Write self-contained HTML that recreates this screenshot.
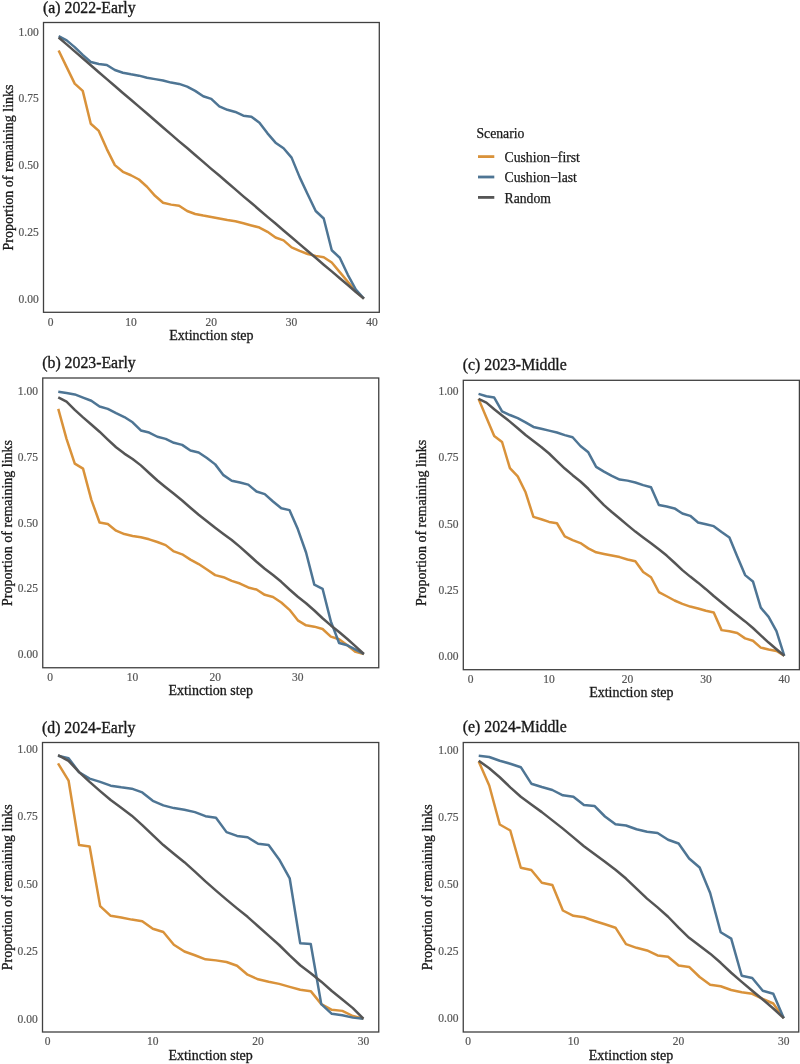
<!DOCTYPE html>
<html><head><meta charset="utf-8"><style>
html,body{margin:0;padding:0;background:#fff;}
svg{display:block;will-change:transform;}
text{font-family:"Liberation Serif",serif;}
.ttl{font-size:15.8px;fill:#1a1a1a;stroke:#1a1a1a;stroke-width:0.35px;}
.tk{font-size:11.5px;fill:#555;stroke:#555;stroke-width:0.2px;}
.ax{font-size:14px;fill:#1a1a1a;stroke:#1a1a1a;stroke-width:0.3px;}
.lg{font-size:13.7px;fill:#1a1a1a;stroke:#1a1a1a;stroke-width:0.25px;}
</style></head><body>
<svg width="800" height="1064" viewBox="0 0 800 1064">
<defs><filter id="bl" x="0" y="0" width="800" height="1064" filterUnits="userSpaceOnUse"><feGaussianBlur stdDeviation="0.0"/></filter></defs>
<rect width="800" height="1064" fill="#fff"/>
<g>
<text x="43.00" y="12.80" class="ttl">(a) 2022-Early</text>
<polyline points="58.63,50.56 66.67,67.11 74.70,83.67 82.73,90.87 90.77,123.72 98.80,130.92 106.83,149.08 114.86,165.10 122.90,171.78 130.93,175.25 138.96,179.52 147.00,186.73 155.03,195.81 163.06,202.75 171.09,204.62 179.13,205.68 187.16,211.02 195.19,213.96 203.23,215.56 211.26,216.90 219.29,218.50 227.33,220.10 235.36,221.17 243.39,223.31 251.42,225.44 259.46,227.58 267.49,231.85 275.52,237.46 283.56,240.39 291.59,247.34 299.62,250.81 307.66,254.01 315.69,255.88 323.72,257.22 331.75,262.56 339.79,272.17 347.82,281.78 355.85,291.39 363.89,298.60" fill="none" stroke="#D9923A" stroke-width="2.5" stroke-linejoin="round" stroke-linecap="butt"/>
<polyline points="58.63,36.14 66.67,40.41 74.70,47.09 82.73,54.83 90.77,62.04 98.80,63.91 106.83,64.98 114.86,70.05 122.90,72.72 130.93,74.32 138.96,75.66 147.00,77.79 155.03,79.13 163.06,80.46 171.09,82.60 179.13,83.93 187.16,86.60 195.19,90.87 203.23,96.21 211.26,98.88 219.29,106.36 227.33,109.83 235.36,111.97 243.39,115.71 251.42,116.77 259.46,122.65 267.49,133.33 275.52,142.67 283.56,148.28 291.59,157.62 299.62,177.12 307.66,194.20 315.69,211.02 323.72,218.50 331.75,250.27 339.79,257.75 347.82,274.84 355.85,289.52 363.89,298.60" fill="none" stroke="#4E7594" stroke-width="2.5" stroke-linejoin="round" stroke-linecap="butt"/>
<polyline points="58.63,37.47 66.67,44.42 74.70,51.36 82.73,58.30 90.77,65.24 98.80,72.18 106.83,79.13 114.86,86.07 122.90,93.01 130.93,99.69 138.96,106.63 147.00,113.57 155.03,120.51 163.06,127.45 171.09,134.40 179.13,141.34 187.16,148.01 195.19,154.95 203.23,161.90 211.26,168.84 219.29,175.51 227.33,182.46 235.36,189.40 243.39,196.34 251.42,203.01 259.46,209.96 267.49,216.90 275.52,223.57 283.56,230.52 291.59,237.19 299.62,244.13 307.66,251.07 315.69,257.75 323.72,264.69 331.75,271.37 339.79,278.31 347.82,284.98 355.85,291.93 363.89,298.60" fill="none" stroke="#555555" stroke-width="2.5" stroke-linejoin="round" stroke-linecap="butt"/>
<rect x="43.50" y="22.50" width="335.80" height="289.80" fill="none" stroke="#404040" stroke-width="1.3"/>
<text x="38.70" y="302.60" class="tk" text-anchor="end">0.00</text>
<text x="38.70" y="235.85" class="tk" text-anchor="end">0.25</text>
<text x="38.70" y="169.10" class="tk" text-anchor="end">0.50</text>
<text x="38.70" y="102.35" class="tk" text-anchor="end">0.75</text>
<text x="38.70" y="35.60" class="tk" text-anchor="end">1.00</text>
<text x="50.60" y="326.30" class="tk" text-anchor="middle">0</text>
<text x="130.93" y="326.30" class="tk" text-anchor="middle">10</text>
<text x="211.26" y="326.30" class="tk" text-anchor="middle">20</text>
<text x="291.59" y="326.30" class="tk" text-anchor="middle">30</text>
<text x="371.92" y="326.30" class="tk" text-anchor="middle">40</text>
<text x="211.40" y="340.30" class="ax" text-anchor="middle">Extinction step</text>
<text x="12.50" y="167.50" class="ax" text-anchor="middle" transform="rotate(-90 12.50 167.50)">Proportion of remaining links</text>
<text x="42.25" y="368.40" class="ttl">(b) 2023-Early</text>
<polyline points="58.26,408.88 66.52,438.87 74.78,463.59 83.04,468.59 91.30,499.62 99.56,522.50 107.82,524.08 116.08,530.65 124.34,534.07 132.60,535.91 140.86,537.23 149.12,539.33 157.38,541.96 165.64,545.12 173.90,551.43 182.16,554.32 190.42,559.58 198.68,564.05 206.94,569.58 215.20,575.10 223.46,577.20 231.72,580.89 239.98,583.52 248.24,587.46 256.50,589.57 264.76,594.83 273.02,596.93 281.28,602.45 289.54,609.82 297.80,620.34 306.06,625.33 314.32,626.65 322.58,629.01 330.84,636.64 339.10,639.27 347.36,645.32 355.62,651.90 363.88,654.00" fill="none" stroke="#D9923A" stroke-width="2.5" stroke-linejoin="round" stroke-linecap="butt"/>
<polyline points="58.26,391.79 66.52,393.10 74.78,394.42 83.04,397.57 91.30,400.73 99.56,406.52 107.82,408.88 116.08,413.09 124.34,417.04 132.60,422.30 140.86,430.45 149.12,432.55 157.38,436.76 165.64,438.87 173.90,442.81 182.16,444.91 190.42,450.44 198.68,452.54 206.94,458.06 215.20,464.38 223.46,475.16 231.72,480.68 239.98,482.52 248.24,484.63 256.50,491.47 264.76,494.10 273.02,501.46 281.28,508.30 289.54,510.14 297.80,529.08 306.06,552.48 314.32,584.57 322.58,588.78 330.84,621.39 339.10,642.95 347.36,645.32 355.62,649.53 363.88,654.00" fill="none" stroke="#4E7594" stroke-width="2.5" stroke-linejoin="round" stroke-linecap="butt"/>
<polyline points="58.26,397.31 66.52,401.52 74.78,409.86 83.04,417.35 91.30,424.48 99.56,431.69 107.82,439.58 116.08,447.28 124.34,453.59 132.60,459.06 140.86,465.38 149.12,473.00 157.38,480.47 165.64,487.26 173.90,493.78 182.16,500.49 190.42,507.69 198.68,514.69 206.94,521.18 215.20,527.76 223.46,533.94 231.72,540.04 239.98,546.88 248.24,554.27 256.50,561.74 264.76,568.74 273.02,575.02 281.28,581.81 289.54,589.51 297.80,596.74 306.06,603.24 314.32,610.53 322.58,618.28 330.84,625.41 339.10,632.09 347.36,639.01 355.62,646.32 363.88,654.00" fill="none" stroke="#555555" stroke-width="2.5" stroke-linejoin="round" stroke-linecap="butt"/>
<rect x="42.75" y="378.00" width="336.00" height="289.75" fill="none" stroke="#404040" stroke-width="1.3"/>
<text x="37.95" y="658.00" class="tk" text-anchor="end">0.00</text>
<text x="37.95" y="592.25" class="tk" text-anchor="end">0.25</text>
<text x="37.95" y="526.50" class="tk" text-anchor="end">0.50</text>
<text x="37.95" y="460.75" class="tk" text-anchor="end">0.75</text>
<text x="37.95" y="395.00" class="tk" text-anchor="end">1.00</text>
<text x="50.00" y="681.15" class="tk" text-anchor="middle">0</text>
<text x="132.60" y="681.15" class="tk" text-anchor="middle">10</text>
<text x="215.20" y="681.15" class="tk" text-anchor="middle">20</text>
<text x="297.80" y="681.15" class="tk" text-anchor="middle">30</text>
<text x="210.75" y="695.35" class="ax" text-anchor="middle">Extinction step</text>
<text x="11.75" y="523.00" class="ax" text-anchor="middle" transform="rotate(-90 11.75 523.00)">Proportion of remaining links</text>
<text x="462.80" y="370.20" class="ttl">(c) 2023-Middle</text>
<polyline points="478.54,398.87 486.38,417.40 494.22,435.92 502.06,442.00 509.90,468.20 517.74,476.40 525.58,492.28 533.42,516.88 541.26,519.27 549.10,521.91 556.94,523.24 564.78,536.47 572.62,540.17 580.46,543.08 588.30,548.37 596.14,552.34 603.98,553.93 611.82,555.52 619.66,557.10 627.50,559.49 635.34,561.34 643.18,571.92 651.02,577.21 658.86,592.03 666.70,596.26 674.54,600.50 682.38,603.94 690.22,606.58 698.06,608.44 705.90,610.82 713.74,612.41 721.58,630.13 729.42,631.19 737.26,633.04 745.10,638.34 752.94,640.72 760.78,647.60 768.62,649.45 776.46,651.04 784.30,655.80" fill="none" stroke="#D9923A" stroke-width="2.5" stroke-linejoin="round" stroke-linecap="butt"/>
<polyline points="478.54,393.85 486.38,396.23 494.22,397.55 502.06,411.31 509.90,415.01 517.74,418.19 525.58,422.42 533.42,426.92 541.26,428.77 549.10,430.63 556.94,432.48 564.78,435.12 572.62,437.24 580.46,445.97 588.30,452.32 596.14,466.88 603.98,471.64 611.82,475.87 619.66,479.58 627.50,480.63 635.34,482.49 643.18,485.13 651.02,487.25 658.86,504.98 666.70,506.57 674.54,508.42 682.38,513.45 690.22,515.83 698.06,522.44 705.90,524.29 713.74,526.15 721.58,531.97 729.42,537.52 737.26,556.57 745.10,575.10 752.94,581.45 760.78,607.64 768.62,616.90 776.46,631.19 784.30,655.80" fill="none" stroke="#4E7594" stroke-width="2.5" stroke-linejoin="round" stroke-linecap="butt"/>
<polyline points="478.54,398.87 486.38,402.58 494.22,409.27 502.06,415.46 509.90,421.63 517.74,428.24 525.58,434.94 533.42,441.08 541.26,446.95 549.10,453.51 556.94,461.05 564.78,468.54 572.62,475.16 580.46,481.48 588.30,488.78 596.14,497.17 603.98,505.16 611.82,512.04 619.66,518.53 627.50,525.14 635.34,531.62 643.18,537.52 651.02,543.21 658.86,549.17 666.70,555.57 674.54,562.79 682.38,570.15 690.22,576.61 698.06,582.64 705.90,589.17 713.74,596.05 721.58,602.56 729.42,608.91 737.26,615.26 745.10,621.40 752.94,628.02 760.78,635.37 768.62,642.57 776.46,649.32 784.30,655.80" fill="none" stroke="#555555" stroke-width="2.5" stroke-linejoin="round" stroke-linecap="butt"/>
<rect x="463.30" y="380.30" width="336.10" height="289.40" fill="none" stroke="#404040" stroke-width="1.3"/>
<text x="458.50" y="659.80" class="tk" text-anchor="end">0.00</text>
<text x="458.50" y="593.65" class="tk" text-anchor="end">0.25</text>
<text x="458.50" y="527.50" class="tk" text-anchor="end">0.50</text>
<text x="458.50" y="461.35" class="tk" text-anchor="end">0.75</text>
<text x="458.50" y="395.20" class="tk" text-anchor="end">1.00</text>
<text x="470.70" y="683.10" class="tk" text-anchor="middle">0</text>
<text x="549.10" y="683.10" class="tk" text-anchor="middle">10</text>
<text x="627.50" y="683.10" class="tk" text-anchor="middle">20</text>
<text x="705.90" y="683.10" class="tk" text-anchor="middle">30</text>
<text x="784.30" y="683.10" class="tk" text-anchor="middle">40</text>
<text x="631.35" y="697.10" class="ax" text-anchor="middle">Extinction step</text>
<text x="426.25" y="522.90" class="ax" text-anchor="middle" transform="rotate(-90 426.25 522.90)">Proportion of remaining links</text>
<text x="42.00" y="732.75" class="ttl">(d) 2024-Early</text>
<polyline points="58.03,763.28 68.56,780.56 79.09,845.09 89.62,846.44 100.15,906.11 110.68,915.83 121.21,917.45 131.74,919.61 142.27,921.23 152.80,928.79 163.33,932.03 173.86,944.72 184.39,951.47 194.92,955.25 205.45,959.30 215.98,960.38 226.51,962.00 237.04,965.78 247.57,974.69 258.10,979.28 268.63,981.71 279.16,983.87 289.69,986.84 300.22,989.81 310.75,991.16 321.28,1004.12 331.81,1009.79 342.34,1010.87 352.87,1016.00 363.40,1018.70" fill="none" stroke="#D9923A" stroke-width="2.5" stroke-linejoin="round" stroke-linecap="butt"/>
<polyline points="58.03,755.72 68.56,758.15 79.09,772.19 89.62,778.67 100.15,781.91 110.68,785.69 121.21,787.31 131.74,788.66 142.27,792.44 152.80,800.81 163.33,805.40 173.86,808.10 184.39,809.72 194.92,812.15 205.45,816.20 215.98,817.82 226.51,832.13 237.04,835.91 247.57,837.26 258.10,843.74 268.63,845.09 279.16,859.40 289.69,878.30 300.22,943.37 310.75,943.91 321.28,1004.12 331.81,1013.84 342.34,1015.19 352.87,1017.62 363.40,1018.70" fill="none" stroke="#4E7594" stroke-width="2.5" stroke-linejoin="round" stroke-linecap="butt"/>
<polyline points="58.03,755.18 68.56,760.85 79.09,772.19 89.62,781.91 100.15,791.09 110.68,800.00 121.21,807.70 131.74,815.66 142.27,825.06 152.80,835.15 163.33,845.09 173.86,853.73 184.39,862.18 194.92,871.69 205.45,881.41 215.98,890.59 226.51,899.63 237.04,908.35 247.57,916.83 258.10,926.23 268.63,935.62 279.16,944.99 289.69,955.44 300.22,965.24 310.75,973.26 321.28,981.66 331.81,991.03 342.34,999.53 352.87,1008.12 363.40,1018.70" fill="none" stroke="#555555" stroke-width="2.5" stroke-linejoin="round" stroke-linecap="butt"/>
<rect x="42.50" y="742.50" width="336.25" height="289.50" fill="none" stroke="#404040" stroke-width="1.3"/>
<text x="37.70" y="1022.70" class="tk" text-anchor="end">0.00</text>
<text x="37.70" y="955.20" class="tk" text-anchor="end">0.25</text>
<text x="37.70" y="887.70" class="tk" text-anchor="end">0.50</text>
<text x="37.70" y="820.20" class="tk" text-anchor="end">0.75</text>
<text x="37.70" y="752.70" class="tk" text-anchor="end">1.00</text>
<text x="47.50" y="1045.00" class="tk" text-anchor="middle">0</text>
<text x="152.80" y="1045.00" class="tk" text-anchor="middle">10</text>
<text x="258.10" y="1045.00" class="tk" text-anchor="middle">20</text>
<text x="363.40" y="1045.00" class="tk" text-anchor="middle">30</text>
<text x="210.62" y="1059.75" class="ax" text-anchor="middle">Extinction step</text>
<text x="11.75" y="887.30" class="ax" text-anchor="middle" transform="rotate(-90 11.75 887.30)">Proportion of remaining links</text>
<text x="462.75" y="732.25" class="ttl">(e) 2024-Middle</text>
<polyline points="478.72,761.51 489.24,785.49 499.76,824.50 510.28,830.51 520.80,867.74 531.32,869.99 541.84,882.76 552.36,884.99 562.88,910.50 573.40,915.76 583.92,917.26 594.44,921.01 604.96,924.26 615.48,927.69 626.00,944.19 636.52,947.81 647.04,950.49 657.56,955.46 668.08,956.80 678.60,965.49 689.12,966.91 699.64,977.00 710.16,984.75 720.68,986.25 731.20,990.01 741.72,992.26 752.24,993.76 762.76,998.99 773.28,1003.50 783.80,1018.20" fill="none" stroke="#D9923A" stroke-width="2.5" stroke-linejoin="round" stroke-linecap="butt"/>
<polyline points="478.72,755.80 489.24,757.00 499.76,760.76 510.28,763.74 520.80,767.20 531.32,783.70 541.84,787.00 552.36,790.00 562.88,795.26 573.40,796.76 583.92,805.10 594.44,805.99 604.96,816.50 615.48,824.31 626.00,825.49 636.52,829.24 647.04,831.79 657.56,833.00 668.08,839.76 678.60,843.49 689.12,858.51 699.64,867.50 710.16,893.01 720.68,932.25 731.20,938.69 741.72,975.76 752.24,977.99 762.76,990.76 773.28,993.76 783.80,1018.20" fill="none" stroke="#4E7594" stroke-width="2.5" stroke-linejoin="round" stroke-linecap="butt"/>
<polyline points="478.72,760.76 489.24,768.24 499.76,777.26 510.28,787.37 520.80,796.76 531.32,804.43 541.84,812.13 552.36,820.37 562.88,828.63 573.40,837.37 583.92,846.17 594.44,854.06 604.96,861.68 615.48,869.75 626.00,878.55 636.52,888.58 647.04,898.61 657.56,907.39 668.08,916.75 678.60,927.67 689.12,937.78 699.64,945.85 710.16,953.63 720.68,962.81 731.20,972.76 741.72,981.93 752.24,990.76 762.76,999.56 773.28,1008.49 783.80,1018.20" fill="none" stroke="#555555" stroke-width="2.5" stroke-linejoin="round" stroke-linecap="butt"/>
<rect x="463.25" y="742.50" width="335.50" height="289.50" fill="none" stroke="#404040" stroke-width="1.3"/>
<text x="458.45" y="1022.20" class="tk" text-anchor="end">0.00</text>
<text x="458.45" y="955.14" class="tk" text-anchor="end">0.25</text>
<text x="458.45" y="888.08" class="tk" text-anchor="end">0.50</text>
<text x="458.45" y="821.01" class="tk" text-anchor="end">0.75</text>
<text x="458.45" y="753.95" class="tk" text-anchor="end">1.00</text>
<text x="468.20" y="1045.00" class="tk" text-anchor="middle">0</text>
<text x="573.40" y="1045.00" class="tk" text-anchor="middle">10</text>
<text x="678.60" y="1045.00" class="tk" text-anchor="middle">20</text>
<text x="783.80" y="1045.00" class="tk" text-anchor="middle">30</text>
<text x="631.00" y="1060.10" class="ax" text-anchor="middle">Extinction step</text>
<text x="432.00" y="887.30" class="ax" text-anchor="middle" transform="rotate(-90 432.00 887.30)">Proportion of remaining links</text>
<text x="476.5" y="137.6" class="lg">Scenario</text>
<line x1="478" y1="156.60" x2="494.3" y2="156.60" stroke="#D9923A" stroke-width="2.8"/>
<text x="504.5" y="161.70" class="lg">Cushion−first</text>
<line x1="478" y1="177.00" x2="494.3" y2="177.00" stroke="#4E7594" stroke-width="2.8"/>
<text x="504.5" y="182.10" class="lg">Cushion−last</text>
<line x1="478" y1="197.40" x2="494.3" y2="197.40" stroke="#555555" stroke-width="2.8"/>
<text x="504.5" y="202.50" class="lg">Random</text>
</g>
</svg>
</body></html>
